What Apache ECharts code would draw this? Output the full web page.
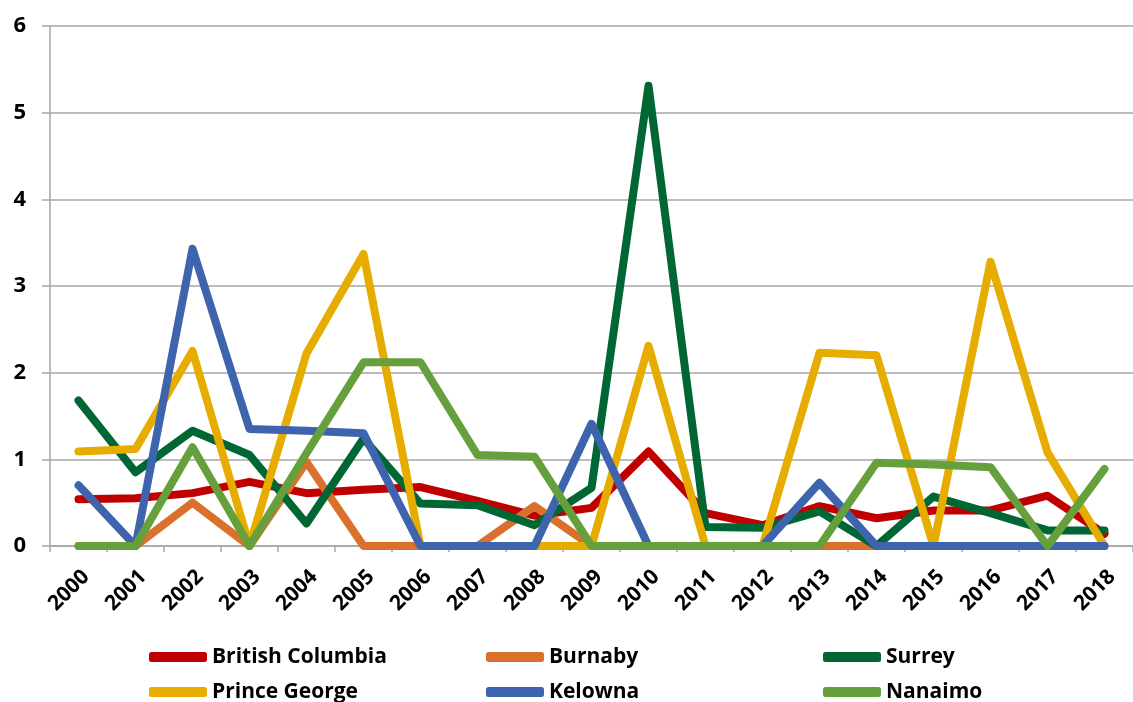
<!DOCTYPE html>
<html>
<head>
<meta charset="utf-8">
<script src="https://cdn.jsdelivr.net/npm/echarts@6/dist/echarts.min.js"></script>
<style>
  html, body { margin: 0; padding: 0; background: #ffffff; }
  #chart { width: 1133px; height: 702px; }
</style>
</head>
<body>
<div id="chart"></div>
<script>
// Years on the category axis
const years = ['2000','2001','2002','2003','2004','2005','2006','2007','2008','2009',
               '2010','2011','2012','2013','2014','2015','2016','2017','2018'];

// Rates per region, one value per year
const britishColumbia = [0.54, 0.55, 0.61, 0.74, 0.61, 0.65, 0.68, 0.52, 0.35, 0.44, 1.09, 0.38, 0.24, 0.46, 0.32, 0.41, 0.41, 0.58, 0.14];
const burnaby         = [0, 0, 0.50, 0, 0.97, 0, 0, 0, 0.46, 0, 0, 0, 0, 0, 0, 0, 0, 0, 0];
const surrey          = [1.68, 0.85, 1.33, 1.05, 0.26, 1.24, 0.49, 0.47, 0.24, 0.67, 5.31, 0.22, 0.21, 0.40, 0, 0.57, 0.38, 0.18, 0.18];
const princeGeorge    = [1.09, 1.12, 2.25, 0, 2.22, 3.37, 0, 0, 0, 0, 2.31, 0, 0, 2.23, 2.20, 0, 3.28, 1.08, 0];
const kelowna         = [0.70, 0, 3.43, 1.35, 1.33, 1.30, 0, 0, 0, 1.41, 0, 0, 0, 0.73, 0, 0, 0, 0, 0];
const nanaimo         = [0, 0, 1.14, 0, 1.07, 2.12, 2.12, 1.05, 1.03, 0, 0, 0, 0, 0, 0.96, 0.94, 0.91, 0, 0.89];

// Y axis ticks
const yTicks = [0, 1, 2, 3, 4, 5, 6];

const seriesDefs = [
  { name: 'British Columbia', data: britishColumbia, color: '#C00000' },
  { name: 'Burnaby',          data: burnaby,         color: '#D9702C' },
  { name: 'Surrey',           data: surrey,          color: '#006633' },
  { name: 'Prince George',    data: princeGeorge,    color: '#E6AC00' },
  { name: 'Kelowna',          data: kelowna,         color: '#3E64AE' },
  { name: 'Nanaimo',          data: nanaimo,         color: '#66A03C' }
];

const FONT = '"Open Sans", "Liberation Sans", sans-serif';

const legendBase = {
  orient: 'vertical',
  top: 645,
  height: 120,
  padding: 0,
  icon: 'roundRect',
  itemWidth: 58,
  itemHeight: 10,
  itemGap: 11,
  textStyle: { fontFamily: FONT, fontWeight: 'bold', fontSize: 21, color: '#000000', lineHeight: 24 },
  selectedMode: false
};

const chart = echarts.init(document.getElementById('chart'), null, { renderer: 'canvas' });

chart.setOption({
  backgroundColor: '#ffffff',
  animation: false,
  grid: { left: 50, top: 26, width: 1100, height: 520, containLabel: false },
  legend: [
    Object.assign({}, legendBase, { left: 149, data: ['British Columbia', 'Prince George'] }),
    Object.assign({}, legendBase, { left: 486, data: ['Burnaby', 'Kelowna'] }),
    Object.assign({}, legendBase, { left: 823, data: ['Surrey', 'Nanaimo'] })
  ],
  xAxis: {
    type: 'category',
    data: years,
    boundaryGap: true,
    axisLine: { show: true, lineStyle: { color: '#A6A6A6', width: 1.5 } },
    axisTick: { show: true, inside: false, length: 6, alignWithLabel: false, lineStyle: { color: '#A6A6A6', width: 1.5 } },
    axisLabel: {
      rotate: 45,
      margin: 20,
      interval: 0,
      verticalAlign: 'top',
      fontFamily: FONT,
      fontWeight: 'bold',
      fontSize: 21,
      color: '#000000'
    },
    splitLine: { show: false }
  },
  yAxis: {
    type: 'value',
    min: yTicks[0],
    max: yTicks[yTicks.length - 1],
    interval: 1,
    axisLine: { show: true, lineStyle: { color: '#A6A6A6', width: 1.5 } },
    axisTick: { show: true, inside: false, length: 8, lineStyle: { color: '#A6A6A6', width: 1.5 } },
    axisLabel: {
      margin: 24,
      fontFamily: FONT,
      fontWeight: 'bold',
      fontSize: 22,
      color: '#000000'
    },
    splitLine: { show: true, lineStyle: { color: '#A6A6A6', width: 1.5 } }
  },
  series: seriesDefs.map(s => ({
    name: s.name,
    type: 'line',
    data: s.data,
    symbol: 'none',
    smooth: false,
    color: s.color,
    lineStyle: { color: s.color, width: 8, cap: 'round', join: 'round' },
    itemStyle: { color: s.color },
    emphasis: { disabled: true }
  }))
});
</script>
</body>
</html>
